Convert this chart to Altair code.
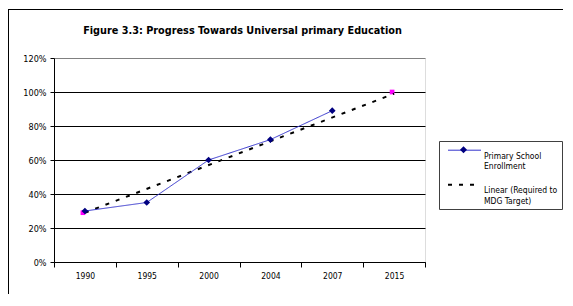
import altair as alt
import pandas as pd

# ---- data ----
years = ["1990", "1995", "2000", "2004", "2007", "2015"]
enroll_years = ["1990", "1995", "2000", "2004", "2007"]
enroll_values = [0.30, 0.35, 0.60, 0.72, 0.89]
trend_years = ["1990", "2015"]
trend_values = [0.29, 0.99]
target_years = ["1990", "2015"]
target_values = [0.29, 1.00]
y_ticks = [0, 0.2, 0.4, 0.6, 0.8, 1.0, 1.2]
series_names = ["Primary School|Enrollment", "Linear (Required to|MDG Target)"]
title_text = "Figure 3.3: Progress Towards Universal primary Education"

FONT = "DejaVu Sans Condensed, Liberation Sans, sans-serif"

enroll_df = pd.DataFrame({"year": enroll_years, "value": enroll_values,
                          "series": series_names[0], "marker": series_names[0]})
trend_df = pd.DataFrame({"year": trend_years, "value": trend_values, "series": series_names[1]})
target_df = pd.DataFrame({"year": target_years, "value": target_values})

W, H = 371, 204

x_enc = alt.X(
    "year:N",
    scale=alt.Scale(type="band", domain=years, paddingInner=0, paddingOuter=0),
    axis=alt.Axis(
        title=None, labelAngle=0, tickBand="extent", tickSize=5, tickColor="black",
        domainColor="black", labelFont=FONT, labelFontSize=8.5, labelColor="black",
        labelPadding=4, grid=False,
    ),
)
y_enc = alt.Y(
    "value:Q",
    scale=alt.Scale(domain=[0, 1.2], nice=False, zero=True),
    axis=alt.Axis(
        title=None, values=y_ticks, format=".0%", tickSize=4, tickColor="black",
        domainColor="black", labelFont=FONT, labelFontSize=9, labelColor="black",
        labelPadding=4, grid=True,
        gridColor=alt.condition("datum.value >= 1.2", alt.value("#808080"), alt.value("black")),
        gridWidth=1,
    ),
)

LEG_X, LEG_Y = 385, 83
legend_common = dict(
    title=None, orient="none", legendX=LEG_X, legendY=LEG_Y, symbolSize=400,
    labelFont=FONT, labelFontSize=8.5, labelColor="black", labelOffset=19,
    labelLimit=200, rowPadding=8, padding=4,
)
legend = alt.Legend(
    symbolType="M-0.6,-0.53H2.7",
    labelExpr="split(datum.label, '|')",
    strokeColor="#404040", fillColor="white", zindex=0,
    **legend_common,
)
# overlay legend: only draws the diamond marker over the first legend line
legend_marker = alt.Legend(
    symbolType="M1.05,-0.88L1.4,-0.53L1.05,-0.18L0.7,-0.53Z",
    labelExpr="[' ', ' ']",
    labelOpacity=0, symbolStrokeWidth=0, zindex=1,
    **legend_common,
)

color_scale = alt.Scale(domain=series_names, range=["#3333CC", "black"])
dash_scale = alt.Scale(domain=series_names, range=[[1, 0], [4, 7]])
width_scale = alt.Scale(domain=series_names, range=[1, 2])

trend = alt.Chart(trend_df).mark_line().encode(
    x=x_enc, y=y_enc,
    color=alt.Color("series:N", scale=color_scale, legend=legend),
    strokeDash=alt.StrokeDash("series:N", scale=dash_scale, legend=legend),
    strokeWidth=alt.StrokeWidth("series:N", scale=width_scale, legend=legend),
)

enroll_line = alt.Chart(enroll_df).mark_line().encode(
    x=x_enc, y=y_enc,
    color=alt.Color("series:N", scale=color_scale, legend=legend),
    strokeDash=alt.StrokeDash("series:N", scale=dash_scale, legend=legend),
    strokeWidth=alt.StrokeWidth("series:N", scale=width_scale, legend=legend),
)

targets = alt.Chart(target_df).mark_square(size=22, color="#FF00FF", opacity=1, xOffset=-2).encode(
    x=x_enc, y=y_enc,
)

enroll_pts = alt.Chart(enroll_df).mark_point(
    shape="diamond", filled=True, size=45, opacity=1, strokeWidth=0
).encode(
    x=x_enc, y=y_enc,
    fill=alt.Fill("marker:N", scale=alt.Scale(range=["#000080"]), legend=legend_marker),
)

# outer frame of the figure (top and left edges visible)
frame_top = alt.Chart(enroll_df).mark_rule(color="black", strokeWidth=1).encode(
    x=alt.value(-46), x2=alt.value(520), y=alt.value(-48.5)
)
frame_left = alt.Chart(enroll_df).mark_rule(color="black", strokeWidth=1).encode(
    x=alt.value(-45.5), y=alt.value(-49), y2=alt.value(260)
)

chart = alt.layer(
    frame_top, frame_left, targets, trend, enroll_line, enroll_pts
).properties(
    width=W, height=H,
    title=alt.TitleParams(
        title_text, font=FONT, fontSize=10.8, fontWeight="bold", color="black",
        anchor="middle", offset=-27, dx=3, frame="group",
    ),
    autosize=alt.AutoSizeParams(type="none"),
    padding={"left": 46, "top": 50, "right": 138, "bottom": 32},
).configure_view(
    fill="#C0C0C0", stroke="#808080", strokeWidth=1,
).configure(background="white")

chart.save("out.html", embed_options={"renderer": "svg", "actions": False})
